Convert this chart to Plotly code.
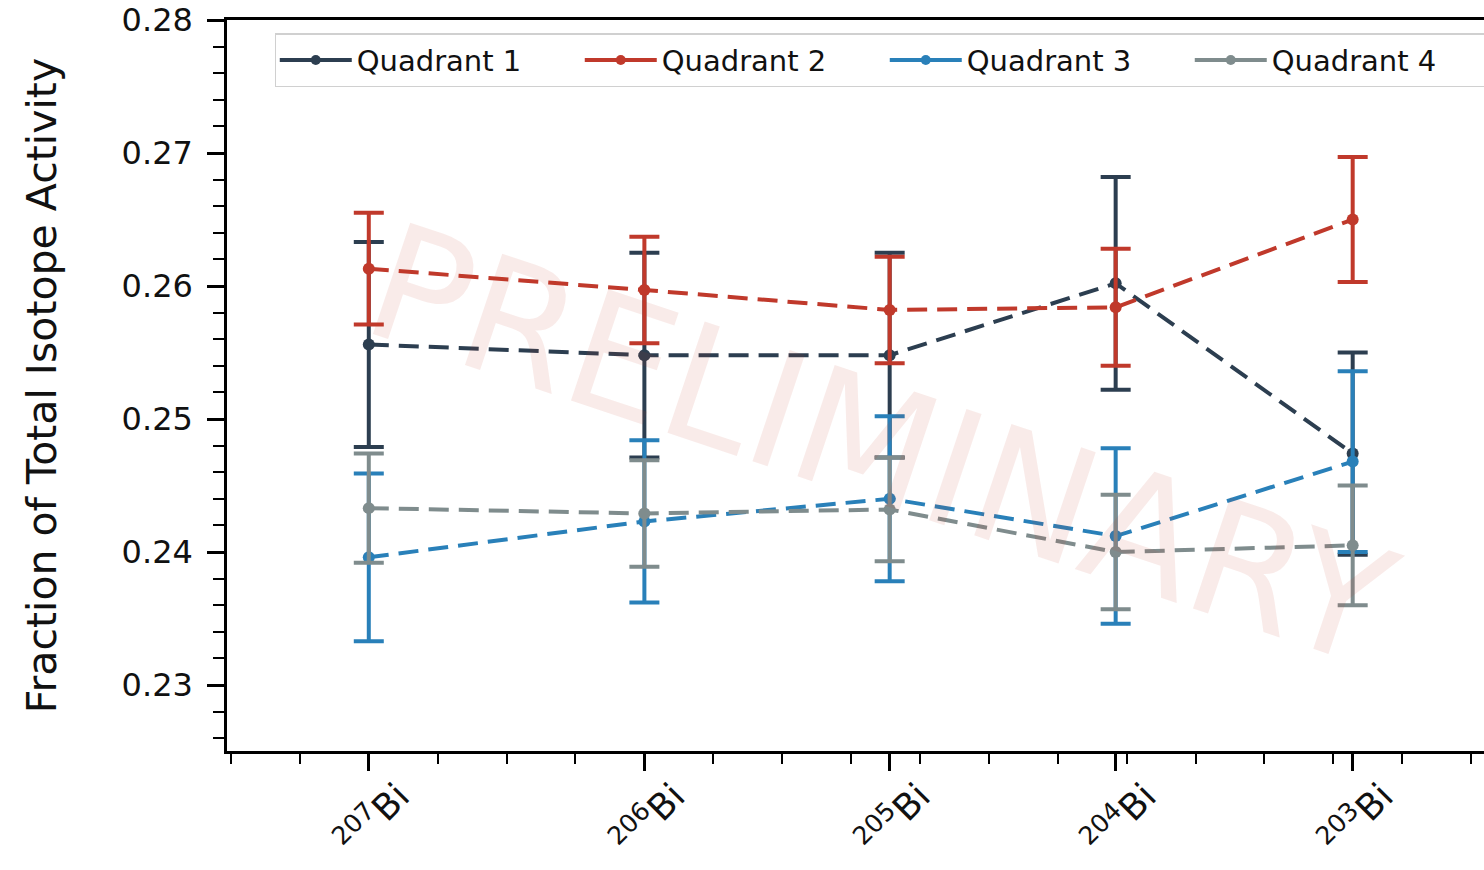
import plotly.graph_objects as go

# Isotope positions on the horizontal axis and their labels
x_pos = [2.0, 6.0, 9.56, 12.84, 16.28]
isotopes = ["<sup>207</sup>Bi", "<sup>206</sup>Bi", "<sup>205</sup>Bi",
            "<sup>204</sup>Bi", "<sup>203</sup>Bi"]

# Fraction of total activity per quadrant, with 1-sigma uncertainties
q1 = [0.2556, 0.2548, 0.2548, 0.2602, 0.2474]
q1_err = [0.0077, 0.0077, 0.0077, 0.0080, 0.0076]
q2 = [0.2613, 0.2597, 0.2582, 0.2584, 0.2650]
q2_err = [0.0042, 0.0040, 0.0040, 0.0044, 0.0047]
q3 = [0.2396, 0.2423, 0.2440, 0.2412, 0.2468]
q3_err = [0.0063, 0.0061, 0.0062, 0.0066, 0.0068]
q4 = [0.2433, 0.2429, 0.2432, 0.2400, 0.2405]
q4_err = [0.0041, 0.0040, 0.0039, 0.0043, 0.0045]

names = ["Quadrant 1", "Quadrant 2", "Quadrant 3", "Quadrant 4"]
colors = ["#2c3e50", "#c0392b", "#2980b9", "#7f8c8d"]
y_ticks = [0.23, 0.24, 0.25, 0.26, 0.27, 0.28]

FONT = "DejaVu Sans, Liberation Sans, sans-serif"

fig = go.Figure()
for name, color, vals, errs in zip(names, colors, [q1, q2, q3, q4],
                                   [q1_err, q2_err, q3_err, q4_err]):
    # data series: dashed line, dots and error bars
    fig.add_trace(go.Scatter(
        x=x_pos, y=vals, name=name, mode="lines+markers",
        legendgroup=name, showlegend=False,
        line=dict(color=color, width=4, dash="20px,10px"),
        marker=dict(color=color, size=12),
        error_y=dict(type="data", array=errs, visible=True,
                     color=color, thickness=4, width=15),
    ))
    # legend key with a solid stroke
    fig.add_trace(go.Scatter(
        x=[None], y=[None], name=name, mode="lines+markers",
        legendgroup=name, showlegend=True,
        line=dict(color=color, width=4),
        marker=dict(color=color, size=10),
    ))

fig.add_annotation(
    text="PRELIMINARY", xref="paper", yref="paper",
    x=0.52, y=0.418, xanchor="center", yanchor="middle",
    showarrow=False, textangle=18.5,
    font=dict(family=FONT, size=161, color="rgba(192,57,43,0.10)"),
)

fig.update_layout(
    width=1484, height=870,
    margin=dict(l=227, r=0, t=20, b=119, autoexpand=False),
    paper_bgcolor="white", plot_bgcolor="white",
    font=dict(family=FONT, color="#111111"),
    showlegend=True,
    legend=dict(
        orientation="h", x=0.038, y=0.982, xanchor="left", yanchor="top",
        bgcolor="rgba(255,255,255,0.8)", bordercolor="#d0d0d0", borderwidth=1.5,
        font=dict(family=FONT, size=29, color="#111111"),
        entrywidth=218, entrywidthmode="pixels", itemwidth=72,
    ),
    xaxis=dict(
        range=[-0.058, 18.186], automargin=False,
        tickmode="array", tickvals=x_pos, ticktext=isotopes,
        tickangle=-45, ticklabelshift=30, ticklabelstandoff=-10,
        ticks="outside", ticklen=17, tickwidth=2.5, tickcolor="black",
        tickfont=dict(family=FONT, size=36, color="#111111"),
        minor=dict(ticks="outside", dtick=1, tick0=0, ticklen=10,
                   tickwidth=2, tickcolor="black", showgrid=False),
        showline=True, linecolor="black", linewidth=2.5, mirror=True,
        showgrid=False, zeroline=False,
    ),
    yaxis=dict(
        range=[0.22504, 0.28], automargin=False,
        tickmode="array", tickvals=y_ticks,
        ticktext=[f"{v:.2f}" for v in y_ticks],
        ticks="outside", ticklen=17, tickwidth=2.5, tickcolor="black",
        ticklabelstandoff=8,
        tickfont=dict(family=FONT, size=32, color="#111111"),
        minor=dict(ticks="outside", dtick=0.002, tick0=0.22, ticklen=11,
                   tickwidth=2, tickcolor="black", showgrid=False),
        showline=True, linecolor="black", linewidth=2.5, mirror=False,
        showgrid=False, zeroline=False,
        title=dict(text="Fraction of Total Isotope Activity",
                   font=dict(family=FONT, size=41, color="#111111"),
                   standoff=53),
    ),
)

fig.write_html("out.html")
